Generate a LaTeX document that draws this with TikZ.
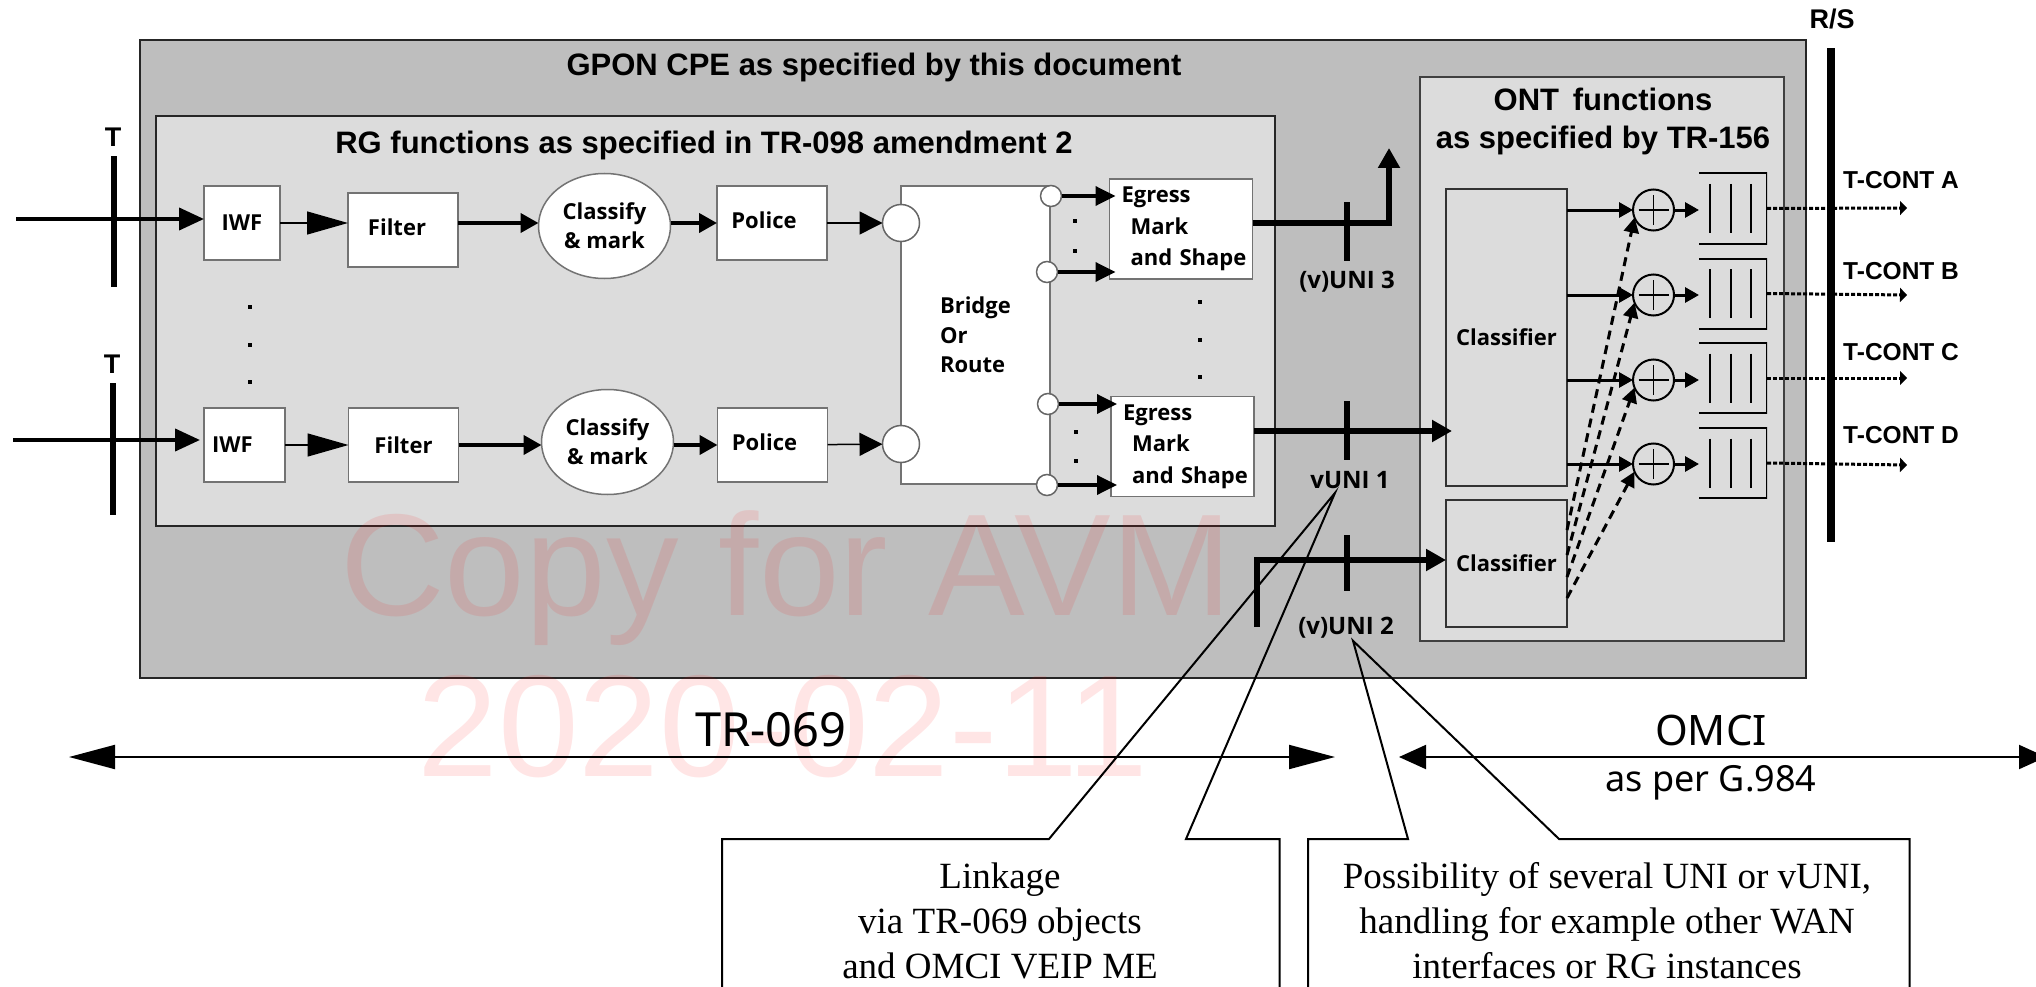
\documentclass[tikz,border=0pt]{standalone}
\usepackage{fontspec}
\setmainfont{Liberation Sans}
\newfontfamily\labelfont{Noto Sans}
\newfontfamily\boxfamily{Open Sans}
\newcommand{\boxface}{\boxfamily\bfseries}
\newfontfamily\noteface{Liberation Serif}
\usetikzlibrary{arrows.meta,positioning,shapes.geometric}
\definecolor{cpegray}{HTML}{BEBEBE}
\definecolor{rggray}{HTML}{DCDCDC}
\definecolor{markred}{HTML}{FF0000}

\begin{document}
\begin{tikzpicture}[
  x=1pt, y=-1pt,
  font=\boxface\fontsize{22}{29}\selectfont,
  region/.style={draw=black!85, line width=2.5pt, inner sep=0pt, outer sep=0pt},
  wbox/.style={draw=black!55, fill=white, line width=1.5pt, inner sep=0pt, outer sep=0pt, align=center},
  lbox/.style={wbox, align=left, minimum width=143pt, minimum height=100pt, text width=143pt,
               font=\boxface\fontsize{22}{31.5}\selectfont},
  cbox/.style={wbox, draw=black!80, fill=rggray, minimum width=121pt},
  port/.style={circle, draw=black!60, fill=white, line width=1.5pt, inner sep=0pt, outer sep=0pt, minimum size=#1},
  tbar/.style={fill=black, inner sep=0pt, outer sep=0pt, minimum width=6pt, minimum height=#1},
  dotmark/.style={fill=black, inner sep=0pt, minimum size=4.5pt},
  title/.style={font=\rmfamily\bfseries\fontsize{31}{38}\selectfont, inner sep=0pt, align=center},
  tag/.style={font=\rmfamily\bfseries\fontsize{24.5}{29}\selectfont, inner sep=0pt},
  bigtag/.style={font=\rmfamily\bfseries\fontsize{27}{29}\selectfont, inner sep=0pt},
  unitag/.style={font=\boxface\fontsize{24}{29}\selectfont, inner sep=0pt},
  stamp/.style={font=\rmfamily\mdseries\fontsize{145}{145}\selectfont, text=markred, text opacity=0.1, inner sep=0pt},
  note/.style={font=\noteface\mdseries\fontsize{37}{45}\selectfont, align=center, inner sep=0pt},
  plusbox/.style={circle, draw=black, line width=2pt, inner sep=0pt, outer sep=0pt, minimum size=41pt,
    path picture={\draw[line width=1.5pt] ([xshift=-15pt]path picture bounding box.center) -- ([xshift=15pt]path picture bounding box.center)
      ([yshift=-15pt]path picture bounding box.center) -- ([yshift=15pt]path picture bounding box.center);}},
  queue/.style={inner sep=0pt, outer sep=0pt, minimum width=68pt, minimum height=71pt,
    path picture={\draw[line width=3pt] (path picture bounding box.north west) -- (path picture bounding box.north east)
        -- (path picture bounding box.south east) -- (path picture bounding box.south west);
      \draw[line width=2pt] ([xshift=11pt,yshift=-11pt]path picture bounding box.north west) -- ([xshift=11pt,yshift=11pt]path picture bounding box.south west)
        ([xshift=32pt,yshift=-11pt]path picture bounding box.north west) -- ([xshift=32pt,yshift=11pt]path picture bounding box.south west)
        ([xshift=52pt,yshift=-11pt]path picture bounding box.north west) -- ([xshift=52pt,yshift=11pt]path picture bounding box.south west);}},
  inflow/.style={-{Triangle[length=25pt,width=22pt]}, line width=4pt},
  thinflow/.style={-{Triangle[length=#1,width=23pt]}, line width=1.5pt},
  midflow/.style={-{Triangle[length=18pt,width=19pt]}, line width=4pt},
  outflow/.style={-{Triangle[length=20pt,width=19pt]}, line width=3.5pt, shorten >=-6pt},
  uniflow/.style={-{Triangle[length=20pt,width=21pt]}, line width=6pt},
  ontflow/.style={-{Triangle[length=14pt,width=15pt]}, line width=3pt},
  crossflow/.style={-{Triangle[length=15pt,width=15pt]}, line width=3pt, dash pattern=on 9pt off 6pt},
  contflow/.style={-{Triangle[length=7pt,width=14pt]}, line width=3pt, dash pattern=on 4pt off 2pt},
  span/.style={{Triangle[length=#1,width=24pt]}-{Triangle[length=#1,width=24pt]}, line width=2pt},
  callout/.style={draw=black, line width=2pt}
]
\useasboundingbox (0,0) rectangle (2036,987);

\node[region, fill=cpegray, minimum width=1666pt, minimum height=638pt] (cpe) at (973,359) {};
\node[region, fill=rggray, minimum width=1119pt, minimum height=410pt] (rg) at (715.5,321) {};
\node[region, draw=black!75, line width=1.5pt, fill=rggray, minimum width=364pt, minimum height=564pt] (ont) at (1602,359) {};

\node[stamp] (copymark) at (786,578) {Copy for AVM};
\node[stamp] (datemark) at (783,727) {2020-02-11};

\node[title] (cpetitle) at (874,67) {GPON CPE as specified by this document};
\node[title] (rgtitle) at (704,145) {RG functions as specified in TR-098 amendment 2};
\node[title] (onttitle) at (1603,121) {ONT\, functions\\as specified by TR-156};

\node[bigtag] (tlabela) at (113,137) {T};
\node[bigtag] (tlabelb) at (112,364) {T};
\node[tbar=131pt] (tbara) at (114,221.5) {};
\node[tbar=132pt] (tbarb) at (113,449) {};

\node[wbox, minimum width=76pt, minimum height=74pt] (iwfa) at (242,223) {IWF};
\node[wbox, minimum width=110pt, minimum height=74pt, right=68pt of iwfa, yshift=-7pt] (filtera) {\raisebox{6pt}{Filter\hspace{12pt}}};
\node[wbox, ellipse, minimum width=132pt, minimum height=105pt, right=80.5pt of filtera, yshift=4pt] (classa) {Classify\\\& mark};
\node[wbox, minimum width=110pt, minimum height=74pt, right=46.5pt of classa, yshift=3pt] (policea) {\raisebox{5pt}{Police\hspace{16pt}}};

\node[wbox, minimum width=81pt, minimum height=74pt] (iwfb) at (244.5,445) {IWF\hspace{24pt}};
\node[wbox, minimum width=110pt, minimum height=74pt, right=63.5pt of iwfb] (filterb) {Filter};
\node[wbox, ellipse, minimum width=132pt, minimum height=105pt, right=83pt of filterb, yshift=3pt] (classb) {Classify\\\& mark};
\node[wbox, minimum width=110pt, minimum height=74pt, right=44pt of classb, yshift=-3pt] (policeb) {\raisebox{5pt}{Police\hspace{16pt}}};

\node[wbox, align=left, text width=149pt, minimum height=298pt, font=\boxface\fontsize{22}{29.5}\selectfont] (bridge) at (975.5,335) {\hspace*{39pt}Bridge\\\hspace*{39pt}Or\\\hspace*{39pt}Route};
\node[port=37pt] (ina) at (901,223) {};
\node[port=37pt] (inb) at (901,444) {};
\node[port=21pt] (outa) at (1051,196) {};
\node[port=21pt] (outb) at (1047,272) {};
\node[port=21pt] (outc) at (1048,404) {};
\node[port=21pt] (outd) at (1047,485) {};

\node[lbox] (egressa) at (1181,229) {\hspace*{12pt}Egress\\\hspace*{21pt}Mark\\\hspace*{21pt}and Shape};
\node[lbox] (egressb) at (1182.5,446.5) {\hspace*{12pt}Egress\\\hspace*{21pt}Mark\\\hspace*{21pt}and Shape};

\node[dotmark] (dota) at (250,307) {};
\node[dotmark] (dotb) at (250,345) {};
\node[dotmark] (dotc) at (250,382) {};
\node[dotmark] (dotd) at (1075,221) {};
\node[dotmark] (dote) at (1075,251) {};
\node[dotmark] (dotf) at (1076,432) {};
\node[dotmark] (dotg) at (1076,461) {};
\node[dotmark] (doth) at (1200,302) {};
\node[dotmark] (doti) at (1200,340) {};
\node[dotmark] (dotj) at (1200,377) {};

\coordinate (inputa) at (16,219);
\coordinate (inputb) at (13,440);
\draw[inflow] (inputa) -- (inputa -| iwfa.west);
\draw[inflow] (inputb) -- ([xshift=-4pt]inputb -| iwfb.west);
\draw[thinflow=41pt] (iwfa) -- (iwfa -| filtera.west);
\draw[midflow] (filtera.east |- policea) -- (policea -| classa.west);
\draw[midflow] (classa.east |- policea) -- (policea.west);
\draw[thinflow=23pt] (policea) -- (ina);
\draw[thinflow=41pt] (iwfb) -- (filterb);
\draw[midflow] (filterb) -- (filterb -| classb.west);
\draw[midflow] (classb.east |- policeb) -- (policeb.west);
\draw[thinflow=23pt] (policeb) -- (inb);
\draw[outflow] (outa.east) -- (outa.east -| egressa.west);
\draw[outflow] (outb.east) -- (outb.east -| egressa.west);
\draw[outflow] (outc.east) -- (outc.east -| egressb.west);
\draw[outflow] (outd.east) -- (outd.east -| egressb.west);

\node[tbar=59pt] (unibara) at (1347,231.5) {};
\node[tbar=59pt] (unibarb) at (1347,430.5) {};
\node[tbar=56pt] (unibarc) at (1347,563) {};
\node[unitag] (unithree) at (1347,282) {(v)UNI 3};
\node[unitag] (unione) at (1350,480) {vUNI 1};
\node[unitag] (unitwo) at (1346,628) {(v)UNI 2};

\node[cbox, minimum height=297pt] (clsa) at (1506.5,337.5) {Classifier};
\node[cbox, minimum height=127pt] (clsb) at (1506.5,563.5) {Classifier};
\coordinate (uniup) at (1389,148);
\coordinate (unihook) at (1257,627);
\draw[uniflow] ([yshift=6pt]egressa.east) -| (uniup);
\draw[uniflow, shorten >=-6pt] ([yshift=15.5pt]egressb.east) -- ([yshift=15.5pt]egressb.east -| clsa.west);
\draw[uniflow] (unihook) |- ([yshift=3.5pt]clsb.west);

\node[plusbox] (plusa) at (1653.5,210) {};
\node[plusbox] (plusb) at (1653.5,295) {};
\node[plusbox] (plusc) at (1653.5,380) {};
\node[plusbox] (plusd) at (1653.5,464) {};
\node[queue] (queuea) at (1733,208.5) {};
\node[queue] (queueb) at (1733,293.5) {};
\node[queue] (queuec) at (1733,378) {};
\node[queue] (queued) at (1733,463) {};

\draw[ontflow] (clsa.east |- plusa) -- (plusa.west);
\draw[ontflow] (clsa.east |- plusb) -- (plusb.west);
\draw[ontflow] (clsa.east |- plusc) -- (plusc.west);
\draw[ontflow] (clsa.east |- plusd) -- (plusd.west);
\draw[ontflow] (plusa.east) -- (plusa.east -| queuea.west);
\draw[ontflow] (plusb.east) -- (plusb.east -| queueb.west);
\draw[ontflow] (plusc.east) -- (plusc.east -| queuec.west);
\draw[ontflow] (plusd.east) -- (plusd.east -| queued.west);
\draw[crossflow] ([yshift=33.5pt]clsb.east) -- (plusa.202);
\draw[crossflow] ([yshift=8.5pt]clsb.east) -- (plusb.202);
\draw[crossflow] ([yshift=-13.5pt]clsb.east) -- (plusc.202);
\draw[crossflow] ([yshift=-34.5pt]clsb.east) -- (plusd.202);

\node[fill=black, inner sep=0pt, minimum width=7.5pt, minimum height=494pt] (rsbar) at (1831,295) {};
\node[bigtag] (rslabel) at (1832,19) {R/S};
\coordinate (contenda) at (1907,208);
\coordinate (contendb) at (1907,295);
\coordinate (contendc) at (1907,378);
\coordinate (contendd) at (1907,465);
\draw[contflow] (queuea.east) -- (contenda);
\draw[contflow] (queueb.east) -- (contendb);
\draw[contflow] (queuec.east) -- (contendc);
\draw[contflow] (queued.east) -- (contendd);
\node[tag, anchor=west] (conta) at (1843,180) {T-CONT A};
\node[tag, anchor=west] (contb) at (1843,271) {T-CONT B};
\node[tag, anchor=west] (contc) at (1843,352) {T-CONT C};
\node[tag, anchor=west] (contd) at (1843,435) {T-CONT D};

\coordinate (tr69left) at (69,757);
\coordinate (tr69right) at (1335,757);
\coordinate (omcileft) at (1399,757);
\coordinate (omciright) at (2046,757);
\draw[span=46pt] (tr69left) -- (tr69right);
\draw[span=27pt] (omcileft) -- (omciright);
\node[font=\labelfont\mdseries\fontsize{47}{50}\selectfont, inner sep=0pt] (trlabel) at (771,730) {TR-069};
\node[font=\labelfont\mdseries\fontsize{42}{50}\selectfont, inner sep=0pt] (omcilabel) at (1711,730) {OMCI};
\node[font=\labelfont\mdseries\fontsize{36}{36}\selectfont, inner sep=0pt] (g984label) at (1711,783) {as per G.984};

\draw[callout] (722,1000) |- (1049,839) -- ([xshift=-15pt,yshift=-4pt]unione.south) -- (1186,839) -| (1279.5,1000);
\draw[callout] (1308,1000) |- (1408,839) -- ([xshift=7pt,yshift=-2pt]unitwo.south) -- (1559,839) -| (1909.5,1000);
\node[note] (linkage) at (1000,921) {Linkage\\via TR-069 objects\\and OMCI VEIP ME};
\node[note] (several) at (1607,921) {Possibility of several UNI or vUNI,\\handling for example other WAN\\interfaces or RG instances};

\end{tikzpicture}
\end{document}
